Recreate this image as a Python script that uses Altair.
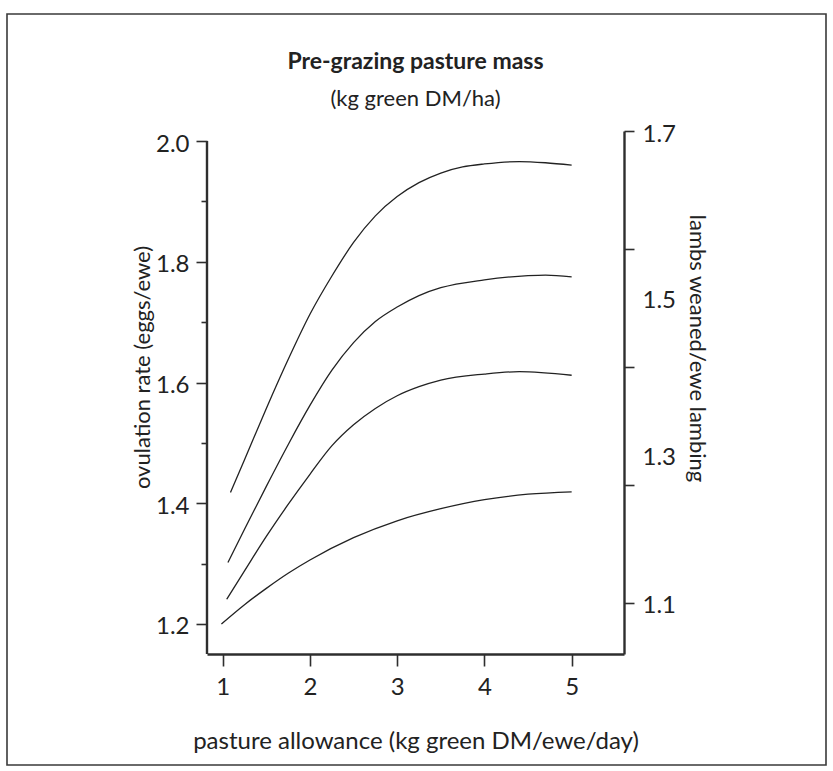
import altair as alt
import pandas as pd

# ---- data ----
curve_a_x = [1.09, 1.25, 1.5, 1.75, 2.0, 2.25, 2.5, 2.75, 3.0, 3.25, 3.5, 3.75, 4.0, 4.4, 4.7, 5.0]
curve_a_y = [1.418, 1.472, 1.557, 1.638, 1.713, 1.776, 1.832, 1.876, 1.908, 1.931, 1.947, 1.957, 1.962, 1.966, 1.964, 1.960]

curve_b_x = [1.06, 1.25, 1.5, 1.75, 2.0, 2.25, 2.5, 2.75, 3.0, 3.25, 3.5, 4.0, 4.5, 4.7, 5.0]
curve_b_y = [1.302, 1.357, 1.428, 1.497, 1.562, 1.620, 1.666, 1.701, 1.725, 1.744, 1.757, 1.770, 1.777, 1.778, 1.775]

curve_c_x = [1.046, 1.25, 1.5, 1.75, 2.0, 2.25, 2.5, 2.75, 3.0, 3.25, 3.5, 4.0, 4.4, 5.0]
curve_c_y = [1.241, 1.288, 1.345, 1.398, 1.448, 1.495, 1.530, 1.557, 1.578, 1.593, 1.604, 1.614, 1.618, 1.612]

curve_d_x = [0.985, 1.25, 1.5, 1.75, 2.0, 2.5, 3.0, 3.5, 4.0, 4.5, 5.0]
curve_d_y = [1.200, 1.232, 1.259, 1.284, 1.306, 1.343, 1.371, 1.391, 1.406, 1.415, 1.419]

x_ticks = [1, 2, 3, 4, 5]
left_ticks = [1.2, 1.3, 1.4, 1.5, 1.6, 1.7, 1.8, 1.9, 2.0]
left_labels = ["1.2", "1.4", "1.6", "1.8", "2.0"]
right_ticks = [1.1, 1.25, 1.3, 1.4, 1.5, 1.55, 1.7]
right_labels = ["1.10", "1.30", "1.50", "1.70"]
right_label_only = ["1.30", "1.50"]

title_text = "Pre-grazing pasture mass"
subtitle_text = "(kg green DM/ha)"

X_DOMAIN = [0.82, 5.6]
Y_LEFT = [1.1503, 2.0166]
Y_RIGHT = [1.035, 1.7]

rows = []
for name, xs, ys in [("a", curve_a_x, curve_a_y), ("b", curve_b_x, curve_b_y),
                     ("c", curve_c_x, curve_c_y), ("d", curve_d_x, curve_d_y)]:
    for xv, yv in zip(xs, ys):
        rows.append({"curve": name, "x": xv, "y": yv})
df = pd.DataFrame(rows)

FONT = "Lato"
INK = "#222222"
AX = "#2e2e2e"

x_enc = alt.X(
    "x:Q",
    scale=alt.Scale(domain=X_DOMAIN, nice=False, zero=False),
    axis=alt.Axis(
        values=x_ticks, format="d", title="pasture allowance (kg green DM/ewe/day)",
        grid=False, domainColor=AX, domainWidth=2.4, tickColor=AX, tickWidth=1.6,
        tickSize=12, labelPadding=9, labelFont=FONT, labelFontSize=24, labelColor=INK,
        titleFont=FONT, titleFontSize=24, titleFontWeight="normal", titleColor=INK,
        titlePadding=30,
    ),
)

left_label_test = "indexof(" + str(left_labels) + ", format(datum.value, '.1f')) >= 0"
lines = alt.Chart(df).mark_line(color=INK, strokeWidth=1.3, interpolate="monotone").encode(
    x=x_enc,
    y=alt.Y(
        "y:Q",
        scale=alt.Scale(domain=Y_LEFT, nice=False, zero=False),
        axis=alt.Axis(
            values=left_ticks, title="ovulation rate (eggs/ewe)", grid=False, domain=False,
            labelExpr=left_label_test + " ? format(datum.value, '.1f') : ''",
            tickColor=AX, tickWidth=1.6,
            tickSize={"condition": {"test": left_label_test, "value": 11}, "value": 6},
            labelPadding=7, labelOffset=3, labelFont=FONT, labelFontSize=24, labelColor=INK,
            titleFont=FONT, titleFontSize=22, titleFontWeight="normal", titleColor=INK,
            titlePadding=1, titleY=236,
        ),
    ),
    detail="curve:N",
)

left_line = alt.Chart(pd.DataFrame({"x": [X_DOMAIN[0]], "y": [Y_LEFT[0]], "y2": [2.0]})).mark_rule(
    color=AX, strokeWidth=2.4
).encode(x="x:Q", y="y:Q", y2="y2:Q")

frame = alt.Chart(pd.DataFrame({"k": [0]})).mark_rect(
    filled=False, stroke="#3a3a3a", strokeWidth=1.6
).encode(x=alt.value(-200), x2=alt.value(619), y=alt.value(-117), y2=alt.value(634))

title_mark = alt.Chart(pd.DataFrame({"k": [0]})).mark_text(
    text=title_text, font=FONT, fontSize=23, fontWeight="bold", color=INK,
    align="center", baseline="middle"
).encode(x=alt.value(208.5), y=alt.value(-69))

subtitle_mark = alt.Chart(pd.DataFrame({"k": [0]})).mark_text(
    text=subtitle_text, font=FONT, fontSize=22, color=INK,
    align="center", baseline="middle"
).encode(x=alt.value(208.5), y=alt.value(-32))

right_label_test = "indexof(" + str(right_labels) + ", format(datum.value, '.2f')) >= 0"
right_hidden_tick = "indexof(" + str(right_label_only) + ", format(datum.value, '.2f')) >= 0"
right = alt.Chart(pd.DataFrame({"r": Y_RIGHT})).mark_point(opacity=0).encode(
    y=alt.Y(
        "r:Q",
        scale=alt.Scale(domain=Y_RIGHT, nice=False, zero=False),
        axis=alt.Axis(
            orient="right", values=right_ticks, title="lambs weaned/ewe lambing", grid=False,
            labelExpr=right_label_test + " ? format(datum.value, '.1f') : ''",
            domainColor=AX, domainWidth=2.4, tickColor=AX, tickWidth=1.6, tickSize=10,
            tickOpacity={"condition": {"test": right_hidden_tick, "value": 0}, "value": 1},
            labelOffset={"condition": {"test": right_hidden_tick, "value": 12}, "value": 3},
            labelPadding=8, labelFont=FONT, labelFontSize=24, labelColor=INK,
            titleFont=FONT, titleFontSize=22, titleFontWeight="normal", titleColor=INK,
            titlePadding=9, titleY=217,
        ),
    ),
)

chart = alt.layer(
    alt.layer(frame, title_mark, subtitle_mark, lines, left_line), right
).resolve_scale(y="independent").properties(
    width=417, height=523,
    padding={"left": 207, "top": 131, "right": 209, "bottom": 117},
    autosize=alt.AutoSizeParams(type="none"),
    background="white",
).configure_view(stroke="transparent", strokeWidth=0)

chart.save("out.html", embed_options={"renderer": "svg", "actions": False})
